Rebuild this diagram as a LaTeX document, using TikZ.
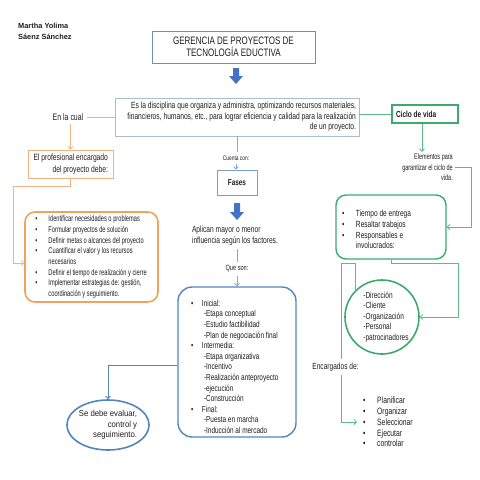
\documentclass[tikz,border=0pt]{standalone}
\usepackage{fontspec}
\setmainfont{Liberation Sans}[FakeStretch=0.74]
\newfontfamily\plainf{Liberation Sans}
\newfontfamily\narrowf{Liberation Sans}[FakeStretch=0.68]
\newfontfamily\widef{Liberation Sans}[FakeStretch=0.9]
\usetikzlibrary{arrows.meta,shapes.geometric,shadows}
\definecolor{cTxt}{HTML}{1E1E1E}
\definecolor{cTitle}{HTML}{6F8FB5}
\definecolor{cMain}{HTML}{A9BCD0}
\definecolor{cArrow}{HTML}{4472C4}
\definecolor{cOr}{HTML}{F4B183}
\definecolor{cOrB}{HTML}{EFA35E}
\definecolor{cGr}{HTML}{3BAA6B}
\definecolor{cGrL}{HTML}{5DBB86}
\definecolor{cBlue}{HTML}{5585C0}
\definecolor{cBlueL}{HTML}{8AA8CF}
\definecolor{cFases}{HTML}{7F9FC0}
\newcommand{\fs}[2]{\fontsize{#1}{#2}\selectfont}
\newcommand{\bpt}[2]{\hspace*{#1}\makebox[#2][l]{\textbullet}}
\begin{document}
\begin{tikzpicture}[x=1pt,y=-1pt,
  every node/.style={text=cTxt, font=\fs{8.4}{10.7}},
  tip/.style={-{Straight Barb[length=2.5pt,width=5pt]}},
  oline/.style={draw=cOr, line width=0.8pt},
  gline/.style={draw=cGrL, line width=0.8pt},
  bline/.style={draw=cBlueL, line width=0.8pt},
  bbline/.style={draw=cBlue, line width=0.9pt},
  shad/.style={drop shadow={opacity=0.15, shadow xshift=1.2pt, shadow yshift=-1.2pt}}
]
\useasboundingbox[fill=white] (0,0) rectangle (480,480);

% ---- nodes ----
\node[font=\plainf\fs{7.4}{10.5}\bfseries, align=flush left, anchor=west, inner sep=1pt] (author) at (17,31.5) {Martha Yolima\\Sáenz Sánchez};

\node[draw=cTitle, fill=white, line width=0.8pt, shad, minimum width=163, minimum height=32, align=flush center, font=\fs{10.8}{11.5}] (title) at (233.5,47) {GERENCIA DE PROYECTOS DE\\TECNOLOGÍA EDUCTIVA};

\node[draw=cMain, fill=white, line width=0.8pt, shad, minimum width=244, minimum height=38, text width=238, inner sep=3pt, align=flush right, font=\fs{9.05}{10.5}] (main) at (237,117) {Es la disciplina que organiza y administra, optimizando recursos materiales,\\financieros, humanos, etc., para lograr eficiencia y calidad para la realización\\de un proyecto.};

\node[font=\fs{9.4}{10}] (enla) at (68,117) {En la cual};

\node[draw=cOr, line width=0.8pt, minimum width=85, minimum height=28, text width=75, inner xsep=5pt, inner ysep=3pt, align=flush right, font=\fs{9.1}{11.5}] (prof) at (70.5,164) {El profesional encargado\\del proyecto debe:};

\node[draw=cOrB, line width=1.6pt, rounded corners=10pt, minimum width=133, minimum height=90, text width=130, inner xsep=1.5pt, align=flush left, font=\narrowf\fs{8.4}{10.7}] (obox) at (91.5,257) {\bpt{9pt}{13pt}Identificar necesidades o problemas\\\bpt{9pt}{13pt}Formular proyectos de solución\\\bpt{9pt}{13pt}Definir metas o alcances del proyecto\\\bpt{9pt}{13pt}Cuantificar el valor y los recursos\\\hspace*{22pt}necesarios\\\bpt{9pt}{13pt}Definir el tiempo de realización y cierre\\\bpt{9pt}{13pt}Implementar estrategias de: gestión,\\\hspace*{22pt}coordinación y seguimiento.};

\node[font=\fs{6.6}{8}] (cuenta) at (236,158) {Cuenta con:};

\node[draw=cFases, line width=0.8pt, minimum width=40, minimum height=25, font=\fs{8.6}{10}\bfseries] (fases) at (237,182.5) {Fases};

\node[align=flush left, anchor=west, font=\fs{9}{11}] (aplican) at (188.5,235.5) {Aplican mayor o menor\\influencia según los factores.};

\node[font=\fs{7.6}{8}] (queson) at (237,269) {Que son:};

\node[draw=cBlue, line width=1.4pt, rounded corners=14pt, minimum width=118, minimum height=146, text width=112, inner xsep=3pt, align=flush left, font=\fs{8.7}{10.6}] (fbox) at (237,362) {\rule{0pt}{16pt}\bpt{10pt}{11pt}Inicial:\\\hspace*{23pt}-Etapa conceptual\\\hspace*{23pt}-Estudio factibilidad\\\hspace*{23pt}-Plan de negociación final\\\bpt{10pt}{11pt}Intermedia:\\\hspace*{23pt}-Etapa organizativa\\\hspace*{23pt}-Incentivo\\\hspace*{23pt}-Realización anteproyecto\\\hspace*{23pt}-ejecución\\\hspace*{23pt}-Construcción\\\bpt{10pt}{11pt}Final:\\\hspace*{23pt}-Puesta en marcha\\\hspace*{23pt}-Inducción al mercado};

\node[draw=cBlue, line width=1.6pt, ellipse, minimum width=76, minimum height=50, inner sep=0pt, align=flush right, font=\widef\fs{8.6}{10.5}] (eval) at (108,425) {Se debe evaluar,\\control y\\seguimiento.};

\node[draw=cGr, line width=1.2pt, minimum width=66, minimum height=18, text width=60, inner xsep=3pt, align=flush left, font=\fs{8.8}{10}\bfseries] (ciclo) at (425,114) {\hspace*{1pt}Ciclo de vida};

\node[align=flush right, anchor=east, inner sep=2pt, font=\narrowf\fs{8.1}{10.5}] (elem) at (455,167.5) {Elementos para\\garantizar el ciclo de\\vida.};

\node[draw=cGr, line width=1.4pt, rounded corners=10pt, minimum width=110, minimum height=64, text width=104, inner xsep=3pt, align=flush left, font=\fs{8.9}{10.7}] (gbox) at (391,227) {\rule{0pt}{11.5pt}\bpt{3pt}{14pt}Tiempo de entrega\\\bpt{3pt}{14pt}Resaltar trabajos\\\bpt{3pt}{14pt}Responsables e\\\hspace*{17pt}involucrados:};

\node[draw=cGr, line width=1.6pt, circle, minimum size=74, inner sep=0pt, align=flush left, font=\fs{8.8}{10.5}] (circ) at (382,317) {\hspace*{8pt}-Dirección\\\hspace*{8pt}-Cliente\\\hspace*{8pt}-Organización\\\hspace*{8pt}-Personal\\\hspace*{8pt}-patrocinadores};

\coordinate (k1) at (341,263);
\node[font=\fs{8.9}{10}] (enc) at (335.5,367) {Encargados de:};

\node[anchor=west, inner xsep=4pt, align=flush left, font=\fs{9.2}{10.75}] (list) at (357,422) {\bpt{2pt}{14pt}Planificar\\\bpt{2pt}{14pt}Organizar\\\bpt{2pt}{14pt}Seleccionar\\\bpt{2pt}{14pt}Ejecutar\\\bpt{2pt}{14pt}controlar};

% ---- block arrows ----
\fill[cArrow] (233,68) -- (239,68) -- (239,76) -- (243,76) -- (236,84) -- (229,76) -- (233,76) -- cycle;
\fill[cArrow] (234,203) -- (240,203) -- (240,212) -- (244,212) -- (237,220) -- (230,212) -- (234,212) -- cycle;

% ---- connectors ----
\draw[oline] (enla.east) -- (enla.east -| main.west);
\draw[oline,tip] (prof.north |- enla.south) -- (prof.north);
\draw[oline,tip] (prof.south) -- ++(0,8) -| (13,263) -- ([yshift=-6pt]obox.west);

\draw[bline] (main.south) -- (main.south |- cuenta.north);
\draw[bline,tip] (cuenta.south) -- (cuenta.south |- fases.north);
\draw[bline] (aplican.south -| queson.north) -- (queson.north);
\draw[bline,tip] (queson.south) -- (fbox.north);
\draw[bbline,tip] ([yshift=-3pt]fbox.west) -| (eval.north);

\draw[gline] (ciclo.west -| main.east) -- (ciclo.west);
\draw[gline,tip] ([xshift=-3pt]ciclo.south) -- ([xshift=-3pt]ciclo.south |- elem.north);
\draw[gline,tip] (elem.east) -- ++(16,0) |- (gbox.east);
\draw[gline,tip] (gbox.south) -- ++(0,4) -| (458,317) -- (circ.east);
\draw[gline] (circ.135) |- (k1) -- (k1 |- enc.north);
\draw[gline,tip] (k1 |- enc.south) -- (k1 |- list.west) -- (list.west);
\end{tikzpicture}
\end{document}
